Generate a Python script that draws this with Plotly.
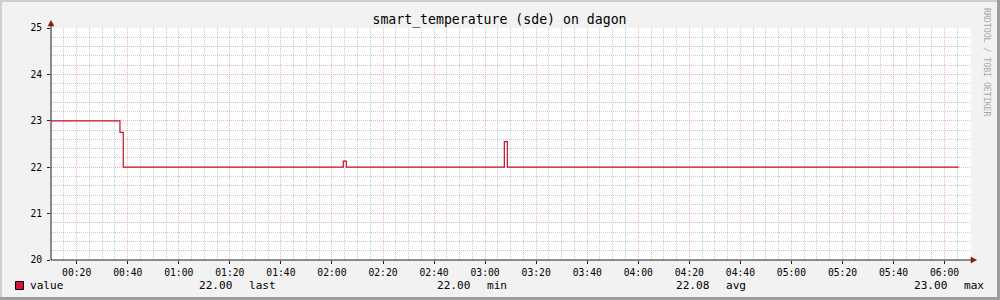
import plotly.graph_objects as go

# ---- data ----
times = [
    "2024-01-01 00:09:57",
    "2024-01-01 00:36:58",
    "2024-01-01 00:38:15",
    "2024-01-01 02:04:27",
    "2024-01-01 02:05:38",
    "2024-01-01 03:07:32",
    "2024-01-01 03:08:42",
    "2024-01-01 06:05:30",
]
values = [23.0, 22.75, 22.0, 22.13, 22.0, 22.55, 22.0, 22.0]

x_range = ["2024-01-01 00:09:57", "2024-01-01 06:10:20"]
y_range = [20, 25]

title_text = "smart_temperature (sde) on dagon"
series_name = "value"
stats_values = ["22.00", "22.00", "22.08", "23.00"]
stats_labels = ["last", "min", "avg", "max"]
watermark = "RRDTOOL / TOBI OETIKER"

# ---- style ----
W, H = 1000, 300
L, R, T, B = 51, 971, 28, 260
FONT = "DejaVu Sans Mono"
LINE_COL = "#C0102E"
AXIS_COL = "#1F1F1F"
ARROW_COL = "#801F1F"
GRID_COL = "rgba(160,160,160,0.55)"
MGRID_COL = "rgba(232,90,90,0.45)"


def px(xp):
    return (xp - L) / (R - L)


def py(yp):
    return (B - yp) / (B - T)


fig = go.Figure()
fig.add_trace(go.Scatter(
    x=times, y=values, mode="lines", line_shape="hv",
    line=dict(color=LINE_COL, width=1.2), name=series_name, showlegend=False,
))

fig.update_layout(
    width=W, height=H,
    margin=dict(l=L, r=W - R, t=T, b=H - B),
    paper_bgcolor="#F2F2F2",
    plot_bgcolor="#FFFFFF",
    font=dict(family=FONT, color="#000000"),
    showlegend=False,
    title=dict(text=title_text, x=0.4995, xref="container", xanchor="center",
               y=1 - 19 / H, yref="container", yanchor="middle",
               font=dict(family=FONT, size=13.2, color="#000000")),
)

fig.update_xaxes(
    type="date", range=x_range, dtick=20 * 60 * 1000, tick0="2024-01-01 00:00:00",
    tickformat="%H:%M", tickfont=dict(family=FONT, size=9.7, color="#000000"),
    showgrid=True, gridcolor=MGRID_COL, griddash="1px,1px", gridwidth=1,
    ticks="outside", ticklen=3, tickcolor=AXIS_COL,
    minor=dict(dtick=5 * 60 * 1000, tick0="2024-01-01 00:00:00", showgrid=True,
               gridcolor=GRID_COL, griddash="1px,1px", gridwidth=1),
    showline=False, zeroline=False, fixedrange=True,
)
fig.update_yaxes(
    range=y_range, dtick=1, tick0=0,
    tickfont=dict(family=FONT, size=9.7, color="#000000"),
    showgrid=True, gridcolor=MGRID_COL, griddash="1px,1px", gridwidth=1,
    ticks="outside", ticklen=3, tickcolor=AXIS_COL, ticklabelstandoff=3,
    minor=dict(dtick=0.2, showgrid=True, gridcolor=GRID_COL,
               griddash="1px,1px", gridwidth=1),
    showline=False, zeroline=False, fixedrange=True,
)

shapes = []
# frame shading
shapes.append(dict(type="rect", xref="paper", yref="paper", x0=px(0), x1=px(W), y0=py(0), y1=py(2),
                   fillcolor="#CFCFCF", line_width=0, layer="below"))
shapes.append(dict(type="rect", xref="paper", yref="paper", x0=px(0), x1=px(2), y0=py(0), y1=py(H),
                   fillcolor="#CFCFCF", line_width=0, layer="below"))
shapes.append(dict(type="rect", xref="paper", yref="paper", x0=px(0), x1=px(W), y0=py(H - 3), y1=py(H),
                   fillcolor="#9E9E9E", line_width=0, layer="below"))
shapes.append(dict(type="rect", xref="paper", yref="paper", x0=px(W - 3), x1=px(W), y0=py(0), y1=py(H),
                   fillcolor="#9E9E9E", line_width=0, layer="below"))
# axis lines
shapes.append(dict(type="line", xref="paper", yref="paper", x0=px(L), x1=px(973), y0=py(B), y1=py(B),
                   line=dict(color=AXIS_COL, width=1), layer="above"))
shapes.append(dict(type="line", xref="paper", yref="paper", x0=px(L), x1=px(L), y0=py(B), y1=py(24),
                   line=dict(color=AXIS_COL, width=1), layer="above"))
# arrows
shapes.append(dict(type="path", xref="paper", yref="paper",
                   path=f"M {px(971)} {py(257)} L {px(976.5)} {py(260)} L {px(971)} {py(263)} Z",
                   fillcolor=ARROW_COL, line=dict(color=ARROW_COL, width=0.5), layer="above"))
shapes.append(dict(type="path", xref="paper", yref="paper",
                   path=f"M {px(48)} {py(26)} L {px(51)} {py(20.5)} L {px(54)} {py(26)} Z",
                   fillcolor=ARROW_COL, line=dict(color=ARROW_COL, width=0.5), layer="above"))
# legend swatch
shapes.append(dict(type="rect", xref="paper", yref="paper", x0=px(15.5), x1=px(23.5), y0=py(281.5), y1=py(289.5),
                   fillcolor="#DC143C", line=dict(color="#000000", width=1), layer="above"))
fig.update_layout(shapes=shapes)

ann = []
LEG_Y = py(285.5)
LEG_FONT = dict(family=FONT, size=11.1, color="#000000")
ann.append(dict(text=series_name, x=px(29), y=LEG_Y, xref="paper", yref="paper",
                xanchor="left", yanchor="middle", showarrow=False, font=LEG_FONT, borderpad=0))
val_right = [233, 471, 710, 948]
lab_left = [248, 486, 725, 963]
for v, lab, vr, ll in zip(stats_values, stats_labels, val_right, lab_left):
    ann.append(dict(text=v, x=px(vr), y=LEG_Y, xref="paper", yref="paper",
                    xanchor="right", yanchor="middle", showarrow=False, font=LEG_FONT, borderpad=0))
    ann.append(dict(text=lab, x=px(ll), y=LEG_Y, xref="paper", yref="paper",
                    xanchor="left", yanchor="middle", showarrow=False, font=LEG_FONT, borderpad=0))
ann.append(dict(text=watermark, x=px(987), y=py(63), xref="paper", yref="paper",
                xanchor="center", yanchor="middle", textangle=90, showarrow=False,
                font=dict(family=FONT, size=8.2, color="#A8A8A8"), borderpad=0))
fig.update_layout(annotations=ann)

fig.write_html("out.html")
